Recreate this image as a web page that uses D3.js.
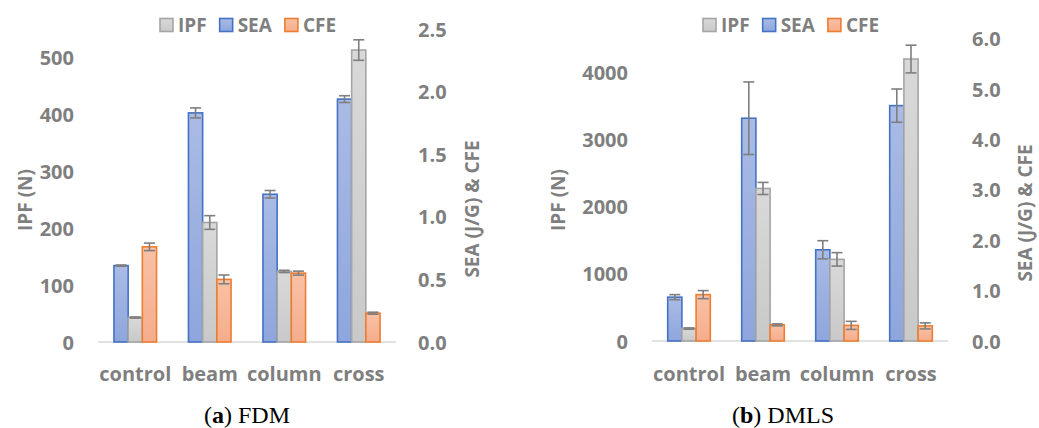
<!DOCTYPE html>
<html>
<head>
<meta charset="utf-8">
<script src="https://cdn.jsdelivr.net/npm/d3@7"></script>
<style>
  body { margin: 0; background: #fff; }
  text { font-family: 'Open Sans', sans-serif; }
</style>
</head>
<body>
<div id="chart"></div>
<script>
const categories = ['control', 'beam', 'column', 'cross']

// (a) FDM
const fdmIPF = [43, 210, 124, 513]
const fdmIPFErr = [1, 12, 2, 18]
const fdmSEA = [0.61, 1.83, 1.18, 1.94]
const fdmSEAErr = [0.005, 0.04, 0.03, 0.027]
const fdmCFE = [0.76, 0.50, 0.55, 0.23]
const fdmCFEErr = [0.03, 0.035, 0.016, 0.008]
const fdmLeftTicks = [0, 100, 200, 300, 400, 500]
const fdmRightTicks = [0, 0.5, 1.0, 1.5, 2.0, 2.5]

// (b) DMLS
const dmlsIPF = [185, 2270, 1215, 4196]
const dmlsIPFErr = [10, 90, 100, 206]
const dmlsSEA = [0.87, 4.42, 1.81, 4.67]
const dmlsSEAErr = [0.05, 0.72, 0.18, 0.33]
const dmlsCFE = [0.92, 0.32, 0.31, 0.30]
const dmlsCFEErr = [0.08, 0.02, 0.08, 0.06]
const dmlsLeftTicks = [0, 1000, 2000, 3000, 4000]
const dmlsRightTicks = [0, 1, 2, 3, 4, 5, 6]

const legendNames = ['IPF', 'SEA', 'CFE']

const textColor = '#7f7f7f'
const errColor = '#7f7f7f'

const svg = d3.select('#chart')
  .append('svg')
  .attr('width', 1039)
  .attr('height', 428)

const defs = svg.append('defs')
function grad(id, c1, c2) {
  const g = defs.append('linearGradient').attr('id', id)
    .attr('x1', 0).attr('y1', 0).attr('x2', 0).attr('y2', 1)
  g.append('stop').attr('offset', '0%').attr('stop-color', c1)
  g.append('stop').attr('offset', '100%').attr('stop-color', c2)
}
grad('gBlue', '#aabbe5', '#8ea6dd')
grad('gGray', '#d9d9d9', '#c9c9c9')
grad('gOrange', '#f9c1a5', '#f5ad8c')

const styles = {
  IPF: { fill: 'url(#gGray)', stroke: '#a5a5a5' },
  SEA: { fill: 'url(#gBlue)', stroke: '#4472c4' },
  CFE: { fill: 'url(#gOrange)', stroke: '#ed7d31' }
}

function drawPanel(cfg) {
  const g = svg.append('g')
  const x = d3.scaleBand().domain(categories).range([cfg.x0, cfg.x1])
  const yL = d3.scaleLinear().domain([0, cfg.leftMax]).range([cfg.base, cfg.top])
  const yR = d3.scaleLinear().domain([0, cfg.rightMax]).range([cfg.base, cfg.top])
  const barW = 14.2

  // baseline
  g.append('line')
    .attr('x1', cfg.x0).attr('x2', cfg.x1)
    .attr('y1', cfg.base).attr('y2', cfg.base)
    .attr('stroke', '#d9d9d9').attr('stroke-width', 1.5)

  // left ticks
  g.selectAll('.lt').data(cfg.leftTicks).enter().append('text')
    .attr('x', cfg.leftLabelX).attr('y', d => yL(d))
    .attr('text-anchor', 'end').attr('dominant-baseline', 'central')
    .attr('font-size', '20px').attr('font-weight', 'bold').attr('fill', textColor)
    .text(d => d)

  // right ticks
  g.selectAll('.rt').data(cfg.rightTicks).enter().append('text')
    .attr('x', cfg.rightLabelX).attr('y', d => yR(d))
    .attr('text-anchor', 'start').attr('dominant-baseline', 'central')
    .attr('font-size', '20px').attr('font-weight', 'bold').attr('fill', textColor)
    .text(d => d3.format('.1f')(d))

  // axis titles
  g.append('text')
    .attr('transform', 'translate(' + cfg.leftTitleX + ',200) rotate(-90)')
    .attr('text-anchor', 'middle').attr('dominant-baseline', 'central')
    .attr('font-size', '19px').attr('font-weight', 'bold').attr('fill', textColor)
    .text('IPF (N)')
  g.append('text')
    .attr('transform', 'translate(' + cfg.rightTitleX + ',' + cfg.rightTitleY + ') rotate(-90)')
    .attr('text-anchor', 'middle').attr('dominant-baseline', 'central')
    .attr('font-size', '19px').attr('font-weight', 'bold').attr('fill', textColor)
    .text('SEA (J/G) & CFE')

  // category labels
  g.selectAll('.cat').data(categories).enter().append('text')
    .attr('x', d => x(d) + x.bandwidth() / 2).attr('y', 373)
    .attr('text-anchor', 'middle').attr('dominant-baseline', 'central')
    .attr('font-size', '20px').attr('font-weight', 'bold').attr('fill', textColor)
    .text(d => d)

  const series = [
    { name: 'SEA', vals: cfg.sea, errs: cfg.seaErr, scale: yR, off: -1.5 },
    { name: 'IPF', vals: cfg.ipf, errs: cfg.ipfErr, scale: yL, off: -0.5 },
    { name: 'CFE', vals: cfg.cfe, errs: cfg.cfeErr, scale: yR, off: 0.5 }
  ]

  series.forEach(s => {
    const cx = (d, i) => x(categories[i]) + x.bandwidth() / 2 + (s.off + 0.5) * barW
    g.selectAll('.bar-' + s.name).data(s.vals).enter().append('rect')
      .attr('x', (d, i) => cx(d, i) - barW / 2)
      .attr('width', barW)
      .attr('y', d => s.scale(d))
      .attr('height', d => cfg.base - s.scale(d))
      .attr('fill', styles[s.name].fill)
      .attr('stroke', styles[s.name].stroke)
      .attr('stroke-width', 1.6)

    const eg = g.selectAll('.err-' + s.name).data(s.vals).enter().append('g')
    eg.append('line')
      .attr('x1', cx).attr('x2', cx)
      .attr('y1', (d, i) => s.scale(d + s.errs[i]))
      .attr('y2', (d, i) => s.scale(d - s.errs[i]))
      .attr('stroke', errColor).attr('stroke-width', 1.6)
    eg.append('line')
      .attr('x1', (d, i) => cx(d, i) - 5.5).attr('x2', (d, i) => cx(d, i) + 5.5)
      .attr('y1', (d, i) => s.scale(d + s.errs[i]))
      .attr('y2', (d, i) => s.scale(d + s.errs[i]))
      .attr('stroke', errColor).attr('stroke-width', 1.6)
    eg.append('line')
      .attr('x1', (d, i) => cx(d, i) - 5.5).attr('x2', (d, i) => cx(d, i) + 5.5)
      .attr('y1', (d, i) => s.scale(d - s.errs[i]))
      .attr('y2', (d, i) => s.scale(d - s.errs[i]))
      .attr('stroke', errColor).attr('stroke-width', 1.6)
  })

  // legend
  const lg = g.append('g').attr('transform', 'translate(' + cfg.legendX + ',25)')
  let lx = 0
  legendNames.forEach(n => {
    lg.append('rect').attr('x', lx).attr('y', -6.5).attr('width', 13).attr('height', 13)
      .attr('fill', styles[n].fill).attr('stroke', styles[n].stroke).attr('stroke-width', 1.6)
    const t = lg.append('text').attr('x', lx + 18).attr('y', 0)
      .attr('dominant-baseline', 'central')
      .attr('font-size', '19px').attr('font-weight', 'bold').attr('fill', textColor)
      .text(n)
    lx += 18 + t.node().getComputedTextLength() + 13
  })

  // caption
  const cap = g.append('text')
    .attr('x', cfg.captionX).attr('y', 423)
    .attr('text-anchor', 'middle')
    .attr('font-size', '24px').attr('fill', '#000')
    .style('font-family', "'Liberation Serif', serif")
  cap.append('tspan').text('(')
  cap.append('tspan').attr('font-weight', 'bold').text(cfg.letter)
  cap.append('tspan').text(') ' + cfg.caption)
}

drawPanel({
  x0: 98, x1: 396, base: 342, top: 29,
  leftMax: 550, rightMax: 2.5,
  leftTicks: fdmLeftTicks, rightTicks: fdmRightTicks,
  leftLabelX: 74, rightLabelX: 418,
  leftTitleX: 25, rightTitleX: 472, rightTitleY: 209,
  ipf: fdmIPF, ipfErr: fdmIPFErr, sea: fdmSEA, seaErr: fdmSEAErr, cfe: fdmCFE, cfeErr: fdmCFEErr,
  legendX: 160, captionX: 247, letter: 'a', caption: 'FDM'
})

drawPanel({
  x0: 652, x1: 948, base: 341, top: 38.6,
  leftMax: 4500, rightMax: 6,
  leftTicks: dmlsLeftTicks, rightTicks: dmlsRightTicks,
  leftLabelX: 628, rightLabelX: 972,
  leftTitleX: 558, rightTitleX: 1025, rightTitleY: 213,
  ipf: dmlsIPF, ipfErr: dmlsIPFErr, sea: dmlsSEA, seaErr: dmlsSEAErr, cfe: dmlsCFE, cfeErr: dmlsCFEErr,
  legendX: 703, captionX: 783, letter: 'b', caption: 'DMLS'
})
</script>
</body>
</html>
